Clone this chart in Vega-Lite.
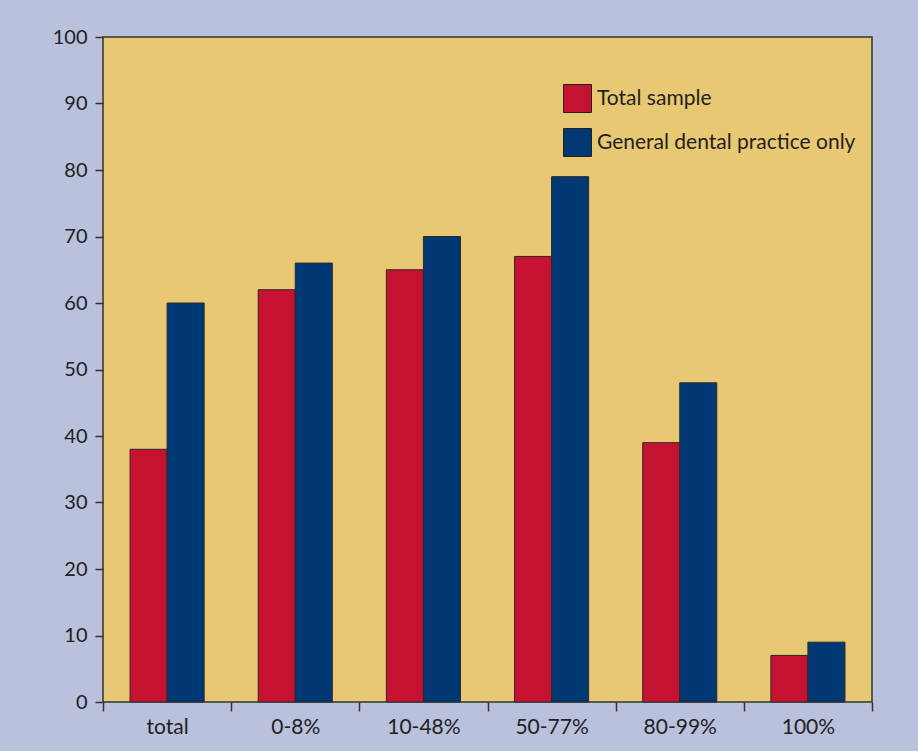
{
  "$schema": "https://vega.github.io/schema/vega-lite/v6.json",
  "width": 769,
  "height": 665,
  "autosize": {"type": "none"},
  "padding": {"left": 103, "top": 37, "right": 46, "bottom": 49},
  "background": "#b9c1dc",
  "config": {
    "font": "Lato",
    "view": {"fill": "#e8c873", "stroke": "#333333", "strokeWidth": 1.5}
  },
  "data": {
    "values": [
      {"category": "total", "series": "Total sample", "value": 38},
      {"category": "total", "series": "General dental practice only", "value": 60},
      {"category": "0-8%", "series": "Total sample", "value": 62},
      {"category": "0-8%", "series": "General dental practice only", "value": 66},
      {"category": "10-48%", "series": "Total sample", "value": 65},
      {"category": "10-48%", "series": "General dental practice only", "value": 70},
      {"category": "50-77%", "series": "Total sample", "value": 67},
      {"category": "50-77%", "series": "General dental practice only", "value": 79},
      {"category": "80-99%", "series": "Total sample", "value": 39},
      {"category": "80-99%", "series": "General dental practice only", "value": 48},
      {"category": "100%", "series": "Total sample", "value": 7},
      {"category": "100%", "series": "General dental practice only", "value": 9}
    ]
  },
  "mark": {"type": "bar", "stroke": "#2a2a2a", "strokeWidth": 1},
  "encoding": {
    "x": {
      "field": "category",
      "type": "nominal",
      "sort": ["total", "0-8%", "10-48%", "50-77%", "80-99%", "100%"],
      "scale": {"paddingInner": 0, "paddingOuter": 0},
      "axis": {
        "title": null,
        "labelAngle": 0,
        "tickBand": "extent",
        "tickSize": 9,
        "tickColor": "#333333",
        "tickWidth": 1.5,
        "domain": false,
        "labelFontSize": 21,
        "labelColor": "#222222",
        "labelPadding": 5
      }
    },
    "xOffset": {
      "field": "series",
      "sort": ["Total sample", "General dental practice only"],
      "scale": {"paddingOuter": 0.73, "paddingInner": 0}
    },
    "y": {
      "field": "value",
      "type": "quantitative",
      "scale": {"domain": [0, 100]},
      "axis": {
        "title": null,
        "values": [0, 10, 20, 30, 40, 50, 60, 70, 80, 90, 100],
        "grid": false,
        "domain": false,
        "tickSize": 8,
        "tickColor": "#333333",
        "tickWidth": 1.5,
        "labelFontSize": 20,
        "labelColor": "#222222",
        "labelPadding": 8
      }
    },
    "color": {
      "field": "series",
      "type": "nominal",
      "scale": {
        "domain": ["Total sample", "General dental practice only"],
        "range": ["#c51230", "#003873"]
      },
      "legend": {
        "title": null,
        "orient": "none",
        "legendX": 460,
        "legendY": 47,
        "padding": 0,
        "symbolType": "square",
        "symbolSize": 784,
        "symbolStrokeColor": "#222222",
        "symbolStrokeWidth": 1,
        "symbolOpacity": 1,
        "labelFontSize": 21,
        "labelLimit": 0,
        "labelColor": "#222222",
        "labelOffset": 5,
        "rowPadding": 11
      }
    }
  }
}
